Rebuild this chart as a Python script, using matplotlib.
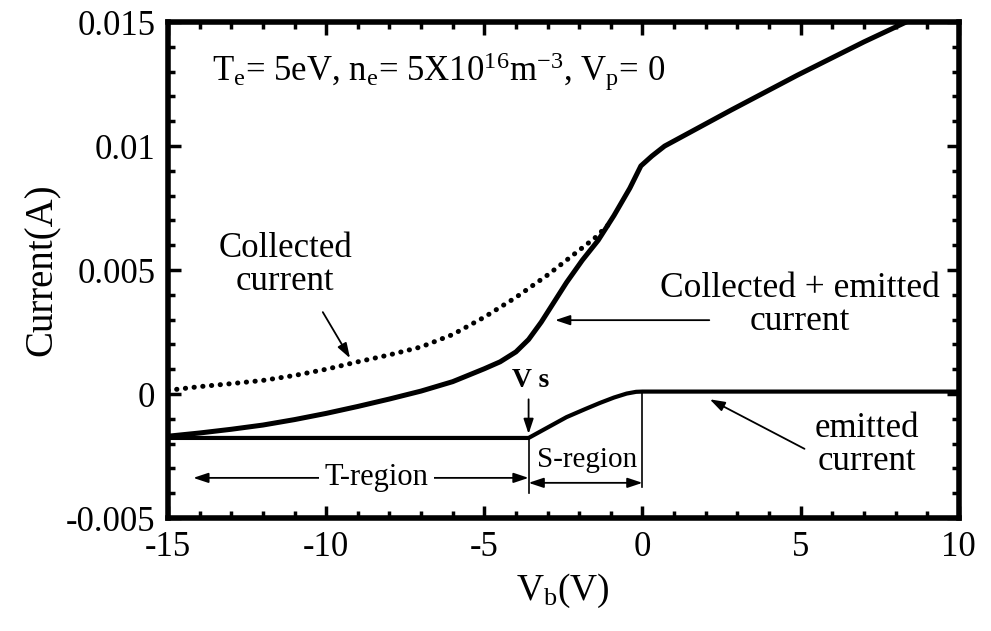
import matplotlib
matplotlib.use("Agg")
import matplotlib.pyplot as plt
from matplotlib.ticker import MultipleLocator

plt.rcParams['font.family'] = ['Liberation Serif', 'DejaVu Serif']
plt.rcParams['mathtext.fontset'] = 'custom'
plt.rcParams['mathtext.rm'] = 'Liberation Serif'
plt.rcParams['mathtext.it'] = 'Liberation Serif'
plt.rcParams['axes.unicode_minus'] = False

# Probe bias sweep (V) and currents (A)
vb_collected = [-15, -14, -13, -12, -11, -10, -9, -8, -7, -6, -5, -4, -3,
                -2, -1.5, -1.1]
i_collected = [0.00015, 0.0003, 0.00042, 0.00055, 0.00075, 0.001, 0.0013,
               0.00158, 0.0019, 0.0024, 0.0031, 0.0039, 0.0048, 0.0058,
               0.0063, 0.0068]

vb_total = [-15, -14, -13, -12, -11, -10, -9, -8, -7, -6, -5, -4.5, -4,
            -3.6, -3.2, -2.8, -2.4, -1.9, -1.4, -0.9, -0.4, -0.05, 0.3, 0.7,
            2.8, 4.9, 7.0, 10]
i_total = [-0.0017, -0.00157, -0.00142, -0.00125, -0.00103, -0.00078,
           -0.0005, -0.0002, 0.00012, 0.0005, 0.00102, 0.0013, 0.0017,
           0.0022, 0.0029, 0.0037, 0.0045, 0.0054, 0.0062, 0.0072, 0.0083,
           0.0092, 0.0096, 0.0100, 0.01145, 0.01286, 0.0142, 0.0160]

vb_emitted = [-15, -3.6, -3.0, -2.4, -1.8, -1.35, -0.9, -0.5, -0.2, 0, 10]
i_emitted = [-0.00177, -0.00177, -0.00135, -0.00093, -0.0006, -0.00036,
             -0.00014, 0.00002, 0.00009, 0.0001, 0.0001]

v_s = -3.6
xticks = [-15, -10, -5, 0, 5, 10]
xticklabels = ['-15', '-10', '-5', '0', '5', '10']
yticks = [-0.005, 0, 0.005, 0.01, 0.015]
yticklabels = ['-0.005', '0', '0.005', '0.01', '0.015']

fig = plt.figure(figsize=(9.91, 6.31), dpi=100)
ax = fig.add_axes([0.1695, 0.179, 0.798, 0.786])

ax.plot(vb_collected, i_collected, color='black', lw=3.6,
        linestyle=(0, (0.05, 1.7)), dash_capstyle='round')
ax.plot(vb_total, i_total, color='black', lw=3.6, solid_joinstyle='round',
        solid_capstyle='round')
ax.plot(vb_emitted, i_emitted, color='black', lw=3.0, solid_joinstyle='round')

ax.set_xlim(-15, 10)
ax.set_ylim(-0.005, 0.015)
ax.set_xticks(xticks)
ax.set_xticklabels(xticklabels)
ax.set_yticks(yticks)
ax.set_yticklabels(yticklabels)
ax.xaxis.set_minor_locator(MultipleLocator(1))
ax.yaxis.set_minor_locator(MultipleLocator(0.001))
ax.tick_params(which='both', direction='in', top=True, right=True,
               width=2.5, labelsize=25)
ax.tick_params(which='major', length=9, pad=9)
ax.tick_params(which='minor', length=5)
for s in ax.spines.values():
    s.set_linewidth(4)

ax.set_xlabel(r'V$_\mathregular{b}$(V)', fontsize=27, labelpad=6)
ax.set_ylabel('Current(A)', fontsize=28, labelpad=4)

ax.text(-13.6, 0.0130,
        r'T$_\mathregular{e}$= 5eV, n$_\mathregular{e}$= 5X10$^\mathregular{16}$'
        r'm$^\mathregular{-3}$, V$_\mathregular{p}$= 0',
        fontsize=25, ha='left', va='center')

ax.text(-11.3, 0.0052, 'Collected\ncurrent', fontsize=25, ha='center',
        va='center', linespacing=1.0)
ax.annotate('', xy=(-9.2, 0.00135), xytext=(-10.15, 0.0034),
            arrowprops=dict(arrowstyle='-|>,head_length=0.9,head_width=0.3',
                            color='black', lw=1.3))

ax.text(4.97, 0.0036, 'Collected + emitted\ncurrent', fontsize=25.5,
        ha='center', va='center', linespacing=1.0)
ax.annotate('', xy=(-2.85, 0.00298), xytext=(2.2, 0.00298),
            arrowprops=dict(arrowstyle='-|>,head_length=0.9,head_width=0.3',
                            color='black', lw=1.3))

ax.text(7.1, -0.00206, 'emitted\ncurrent', fontsize=25, ha='center',
        va='center', linespacing=1.0)
ax.annotate('', xy=(2.05, -0.00016), xytext=(5.2, -0.00226),
            arrowprops=dict(arrowstyle='-|>,head_length=0.9,head_width=0.3',
                            color='black', lw=1.3))

ax.text(v_s + 0.05, 0.00055, 'V s', fontsize=20, fontweight='bold',
        ha='center', va='center')
ax.annotate('', xy=(v_s, -0.00172), xytext=(v_s, -0.0001),
            arrowprops=dict(arrowstyle='-|>,head_length=0.9,head_width=0.3',
                            color='black', lw=1.3))

ax.plot([v_s, v_s], [-0.00177, -0.0040], color='black', lw=1.2)
ax.plot([0, 0], [0.0001, -0.00375], color='black', lw=1.2)

ax.annotate('', xy=(-14.2, -0.00338), xytext=(v_s, -0.00338),
            arrowprops=dict(arrowstyle='<|-|>,head_length=0.9,head_width=0.3',
                            color='black', lw=1.3, shrinkA=0, shrinkB=0))
ax.text(-8.4, -0.00335, 'T-region', fontsize=22, ha='center', va='center',
        bbox=dict(facecolor='white', edgecolor='none', pad=4))

ax.annotate('', xy=(v_s, -0.00358), xytext=(0, -0.00358),
            arrowprops=dict(arrowstyle='<|-|>,head_length=0.9,head_width=0.3',
                            color='black', lw=1.3, shrinkA=0, shrinkB=0))
ax.text(-1.76, -0.00266, 'S-region', fontsize=21, ha='center', va='center')

fig.savefig('out.png', dpi=100)
